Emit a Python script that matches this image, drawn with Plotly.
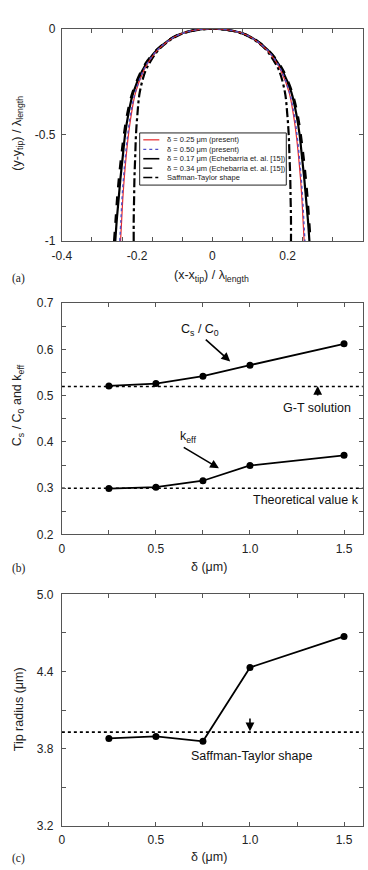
import plotly.graph_objects as go

# ---------------- Panel (a): tip shapes (half-widths) ----
y_levels = [0, -0.01, -0.03, -0.06, -0.10, -0.15, -0.20, -0.30, -0.40, -0.50,
            -0.60, -0.70, -0.80, -0.90, -1.00]
half_d025_present = [0, 0.055, 0.091, 0.119, 0.145, 0.167, 0.183, 0.204, 0.215, 0.223,
                     0.229, 0.234, 0.238, 0.241, 0.244]
half_d050_present = [0, 0.055, 0.091, 0.119, 0.146, 0.168, 0.184, 0.205, 0.217, 0.225,
                     0.231, 0.236, 0.240, 0.243, 0.246]
half_d017_echeb = [0, 0.055, 0.092, 0.120, 0.147, 0.170, 0.187, 0.210, 0.223, 0.232,
                   0.238, 0.244, 0.249, 0.254, 0.258]
half_d034_echeb = [0, 0.055, 0.092, 0.121, 0.148, 0.172, 0.189, 0.212, 0.226, 0.235,
                   0.242, 0.248, 0.253, 0.257, 0.261]
half_saffman = [0, 0.052, 0.088, 0.117, 0.143, 0.163, 0.178, 0.193, 0.199, 0.203,
                0.205, 0.207, 0.208, 0.209, 0.209]

# ---------------- Panel (b) ----------------
delta = [0.25, 0.5, 0.75, 1.0, 1.5]
cs_c0 = [0.521, 0.526, 0.542, 0.566, 0.612]
k_eff = [0.299, 0.302, 0.316, 0.349, 0.371]
gt_solution = 0.52
k_theory = 0.30
x_span = [0, 1.6]

# ---------------- Panel (c) ----------------
tip_radius = [3.879, 3.894, 3.856, 4.431, 4.673]
saffman_radius = 3.928

W, H = 368, 870


def px_x(p):
    return p / W


def px_y(p):
    return 1 - p / H


def profile(half):
    xs = [-h for h in reversed(half)] + half[1:]
    ys = list(reversed(y_levels)) + y_levels[1:]
    return xs, ys


fig = go.Figure()

curves = [
    (half_d017_echeb, dict(color="black", width=2.2, dash="solid")),
    (half_d034_echeb, dict(color="black", width=2.4, dash="dash")),
    (half_saffman, dict(color="black", width=2.2, dash="dashdot")),
    (half_d025_present, dict(color="#e8282a", width=1.2, dash="solid")),
    (half_d050_present, dict(color="#5050c8", width=1.4, dash="dot")),
]
names = ["δ = 0.17 μm (Echebarria et. al. [15])", "δ = 0.34 μm (Echebarria et. al. [15])",
         "Saffman-Taylor shape", "δ = 0.25 μm (present)", "δ = 0.50 μm (present)"]
for (half, ln), nm in zip(curves, names):
    xs, ys = profile(half)
    fig.add_trace(go.Scatter(x=xs, y=ys, mode="lines", line=dict(shape="spline", **ln),
                             name=nm, showlegend=False, xaxis="x", yaxis="y"))

# panel b
for yv in (gt_solution, k_theory):
    fig.add_trace(go.Scatter(x=x_span, y=[yv, yv], mode="lines",
                             line=dict(color="black", width=1.5, dash="dot"),
                             showlegend=False, xaxis="x2", yaxis="y2"))
for ser in (cs_c0, k_eff):
    fig.add_trace(go.Scatter(x=delta, y=ser, mode="lines+markers",
                             line=dict(color="black", width=1.8),
                             marker=dict(color="black", size=7),
                             showlegend=False, xaxis="x2", yaxis="y2"))

# panel c
fig.add_trace(go.Scatter(x=x_span, y=[saffman_radius] * 2, mode="lines",
                         line=dict(color="black", width=1.8, dash="dot"),
                         showlegend=False, xaxis="x3", yaxis="y3"))
fig.add_trace(go.Scatter(x=delta, y=tip_radius, mode="lines+markers",
                         line=dict(color="black", width=1.8),
                         marker=dict(color="black", size=7),
                         showlegend=False, xaxis="x3", yaxis="y3"))

FONT = "Liberation Sans, Arial, sans-serif"
axis_common = dict(showline=True, linecolor="#555", linewidth=1, mirror="ticks",
                   ticks="inside", ticklen=4, tickcolor="#555", showgrid=False,
                   zeroline=False, tickfont=dict(family=FONT, size=12, color="#222"),
                   fixedrange=True)
yaxis_extra = dict(ticklabelstandoff=5)
xaxis_extra = dict(ticklabelstandoff=3)

xdom = [px_x(53.3), px_x(362.7)]
dom_a = [px_y(238), px_y(22)]
dom_b = [px_y(536), px_y(301)]
dom_c = [px_y(832), px_y(597)]

minor_a = [-0.4 + 0.08 * i for i in range(11)]

fig.update_layout(
    width=W, height=H, margin=dict(l=0, r=0, t=0, b=0),
    paper_bgcolor="white", plot_bgcolor="white", showlegend=False,
    xaxis=dict(domain=xdom, anchor="y", range=[-0.4, 0.4],
               tickvals=[-0.4, -0.2, 0, 0.2, 0.4], ticktext=["-0.4", "-0.2", "0", "0.2", "0.4"],
               minor=dict(tickvals=minor_a, ticks="inside", ticklen=4, tickcolor="#555"),
               **{**axis_common, "ticklen": 0}, **xaxis_extra),
    yaxis=dict(domain=dom_a, anchor="x", range=[-1, 0],
               tickvals=[-1, -0.5, 0], ticktext=["-1", "-0.5", "0"], **axis_common,
               ticklabelstandoff=3),
    xaxis2=dict(domain=xdom, anchor="y2", range=[0, 1.6],
                tickvals=[0, 0.5, 1.0, 1.5], ticktext=["0", "0.5", "1.0", "1.5"],
                minor=dict(tickvals=[0.25, 0.75, 1.25], ticks="inside", ticklen=4, tickcolor="#555"),
                **axis_common, **xaxis_extra),
    yaxis2=dict(domain=dom_b, anchor="x2", range=[0.2, 0.7],
                tickvals=[0.2, 0.3, 0.4, 0.5, 0.6, 0.7],
                ticktext=["0.2", "0.3", "0.4", "0.5", "0.6", "0.7"],
                minor=dict(tickvals=[0.25, 0.35, 0.45, 0.55, 0.65], ticks="inside", ticklen=4,
                           tickcolor="#555"),
                **axis_common, **yaxis_extra),
    xaxis3=dict(domain=xdom, anchor="y3", range=[0, 1.6],
                tickvals=[0, 0.5, 1.0, 1.5], ticktext=["0", "0.5", "1.0", "1.5"],
                minor=dict(tickvals=[0.25, 0.75, 1.25], ticks="inside", ticklen=4, tickcolor="#555"),
                **axis_common, **xaxis_extra),
    yaxis3=dict(domain=dom_c, anchor="x3", range=[3.2, 5.0],
                tickvals=[3.2, 3.8, 4.4, 5.0], ticktext=["3.2", "3.8", "4.4", "5.0"],
                minor=dict(tickvals=[3.5, 4.1, 4.7], ticks="inside", ticklen=4, tickcolor="#555"),
                **axis_common, **yaxis_extra),
)

tfont = dict(family=FONT, size=12.5, color="#222")
serif = dict(family="Liberation Serif, Times New Roman, serif", size=11.5, color="#222")
ann = []


def paper_text(text, x, y, font, angle=0, xanchor="center"):
    ann.append(dict(text=text, x=px_x(x), y=px_y(y), xref="paper", yref="paper",
                    showarrow=False, font=font, textangle=angle, xanchor=xanchor,
                    yanchor="middle"))


# axis titles
paper_text("(x-x<sub>tip</sub>) / λ<sub>length</sub>", 207, 273, tfont)
paper_text("(y-y<sub>tip</sub>) / λ<sub>length</sub>", 8, 128, tfont, angle=-90)
paper_text("δ (μm)", 205, 569, tfont)
paper_text("C<sub>s</sub> / C<sub>0</sub> and k<sub>eff</sub>", 9, 405, tfont, angle=-90)
paper_text("δ (μm)", 205, 864, tfont)
paper_text("Tip radius (μm)", 9, 714, tfont, angle=-90)
# panel labels
paper_text("(a)", 0, 276, serif, xanchor="left")
paper_text("(b)", 0, 571, serif, xanchor="left")
paper_text("(c)", 0, 865, serif, xanchor="left")

nfont = dict(family=FONT, size=12.5, color="#111")
# panel (b) notes
ann.append(dict(text="C<sub>s</sub> / C<sub>0</sub>", x=0.735, y=0.642, xref="x2", yref="y2",
                showarrow=False, font=nfont))
ann.append(dict(text="k<sub>eff</sub>", x=0.67, y=0.411, xref="x2", yref="y2",
                showarrow=False, font=nfont))
ann.append(dict(text="G-T solution", x=1.355, y=0.474, xref="x2", yref="y2",
                showarrow=False, font=nfont))
ann.append(dict(text="Theoretical value k", x=1.30, y=0.274, xref="x2", yref="y2",
                showarrow=False, font=nfont))
arrow = dict(showarrow=True, arrowhead=2, arrowsize=1.1, arrowwidth=1.6, arrowcolor="black",
             text="")
ann.append(dict(x=0.895, y=0.574, ax=0.757, ay=0.624, xref="x2", yref="y2",
                axref="x2", ayref="y2", **arrow))
ann.append(dict(x=0.835, y=0.343, ax=0.64, ay=0.39, xref="x2", yref="y2",
                axref="x2", ayref="y2", **arrow))
ann.append(dict(x=1.36, y=0.521, ax=1.36, ay=0.497, xref="x2", yref="y2",
                axref="x2", ayref="y2", **arrow))
# panel (c) notes
ann.append(dict(text="Saffman-Taylor shape", x=1.01, y=3.741, xref="x3", yref="y3",
                showarrow=False, font=nfont))
ann.append(dict(x=1.0, y=3.935, ax=1.0, ay=4.045, xref="x3", yref="y3",
                axref="x3", ayref="y3", **arrow))

# manual legend for panel (a)
shapes = [dict(type="rect", xref="paper", yref="paper", x0=px_x(133.3), x1=px_x(284),
               y0=px_y(181), y1=px_y(128), line=dict(color="#222", width=1),
               fillcolor="white", layer="above")]
leg_rows = [
    ("δ = 0.25 μm (present)", dict(color="#e8282a", width=1.2, dash="solid")),
    ("δ = 0.50 μm (present)", dict(color="#5050c8", width=1.4, dash="dot")),
    ("δ = 0.17 μm (Echebarria et. al. [15])", dict(color="black", width=1.6, dash="solid")),
    ("δ = 0.34 μm (Echebarria et. al. [15])", dict(color="black", width=1.4, dash="dash")),
    ("Saffman-Taylor shape", dict(color="black", width=1.4, dash="dashdot")),
]
row_y = [135, 144.7, 154.2, 163.8, 173.3]
for (label, ln), ry in zip(leg_rows, row_y):
    shapes.append(dict(type="line", xref="paper", yref="paper", x0=px_x(137), x1=px_x(153.5),
                       y0=px_y(ry), y1=px_y(ry), line=ln, layer="above"))
    ann.append(dict(text=label, x=px_x(159), y=px_y(ry), xref="paper", yref="paper",
                    showarrow=False, xanchor="left", yanchor="middle",
                    font=dict(family=FONT, size=7.5, color="#222")))

fig.update_layout(annotations=ann, shapes=shapes)

fig.write_html("out.html")
